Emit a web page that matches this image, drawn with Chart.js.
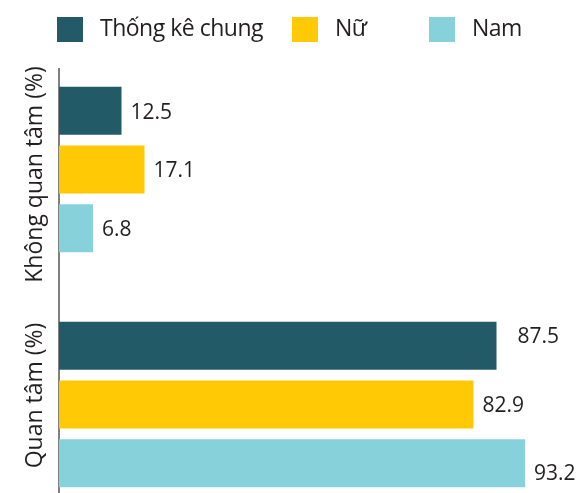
<!DOCTYPE html>
<html>
<head>
<meta charset="utf-8">
<script src="https://cdn.jsdelivr.net/npm/chart.js@4.4.1/dist/chart.umd.min.js"></script>
<style>
  html, body { margin: 0; padding: 0; background: #fff; }
  #wrap { position: relative; width: 577px; height: 493px; }
  #legend {
    position: absolute; top: 17px; left: 57px;
    display: flex; align-items: center;
    font-family: "Open Sans", sans-serif; font-size: 23px; line-height: 25px;
    letter-spacing: -0.5px; color: #231f20;
  }
  .item { display: flex; align-items: center; height: 25px; }
  .swatch { width: 26px; height: 25px; margin-right: 17px; }
  .item span.txt { position: relative; top: -2px; }
</style>
</head>
<body>
<div id="wrap">
  <div id="legend"></div>
  <canvas id="chart" width="577" height="493"></canvas>
</div>
<script>
const groups = ['Không quan tâm (%)', 'Quan tâm (%)'];
const seriesNames = ['Thống kê chung', 'Nữ', 'Nam'];
const tongQuat = [12.5, 87.5];
const nu = [17.1, 82.9];
const nam = [6.8, 93.2];

const colors = ['#235a68', '#ffca05', '#87d2da'];
const legendWidths = [235, 137, null];
const textColor = '#231f20';
const fontFamily = '"Open Sans", sans-serif';

// hand-placed labels that sit a little off the default spot
const labelNudge = { '0:1': [12, -11], '2:1': [0, 9] };
const titleNudge = [5, -9];

function toPoints(values) {
  return values.map((v, i) => ({ x: v, y: i }));
}

const datasets = [tongQuat, nu, nam].map((values, i) => ({
  label: seriesNames[i],
  data: toPoints(values),
  backgroundColor: colors[i],
  borderWidth: 0,
  categoryPercentage: 0.75,
  barPercentage: 0.82
}));

const valueLabels = {
  id: 'valueLabels',
  afterDatasetsDraw(chart) {
    const ctx = chart.ctx;
    ctx.save();
    ctx.font = '21px ' + fontFamily;
    ctx.fillStyle = textColor;
    ctx.textAlign = 'left';
    ctx.textBaseline = 'middle';
    chart.data.datasets.forEach((ds, di) => {
      chart.getDatasetMeta(di).data.forEach((bar, i) => {
        const nudge = labelNudge[di + ':' + i] || [0, 0];
        ctx.fillText(ds.data[i].x.toFixed(1), bar.x + 9 + nudge[0], bar.y + 2 + nudge[1]);
      });
    });
    ctx.restore();
  }
};

const groupTitles = {
  id: 'groupTitles',
  afterDraw(chart) {
    const ctx = chart.ctx;
    const yScale = chart.scales.y;
    ctx.save();
    ctx.font = '23px ' + fontFamily;
    ctx.fillStyle = textColor;
    ctx.textAlign = 'center';
    ctx.textBaseline = 'alphabetic';
    groups.forEach((name, i) => {
      ctx.save();
      ctx.translate(42, yScale.getPixelForValue(i) + titleNudge[i]);
      ctx.rotate(-Math.PI / 2);
      ctx.fillText(name, 0, 0);
      ctx.restore();
    });
    ctx.restore();
  }
};

const chart = new Chart(document.getElementById('chart'), {
  type: 'bar',
  data: { datasets },
  options: {
    indexAxis: 'y',
    responsive: false,
    animation: false,
    layout: { padding: { left: 59, right: 18, top: 69, bottom: 0 } },
    plugins: { legend: { display: false }, tooltip: { enabled: false } },
    scales: {
      x: { type: 'linear', min: 0, max: 100, display: false },
      y: {
        type: 'linear',
        reverse: true,
        offset: false,
        min: -0.4277,
        max: 1.3766,
        grid: { display: false, drawTicks: false },
        border: { display: true, color: '#808080', width: 2 },
        ticks: { display: false },
        afterBuildTicks(scale) {
          scale.ticks = groups.map((_, i) => ({ value: i }));
        },
        afterFit(scale) { scale.width = 0; }
      }
    }
  },
  plugins: [valueLabels, groupTitles]
});

// legend built from the chart's datasets
const legendEl = document.getElementById('legend');
chart.data.datasets.forEach((ds, i) => {
  const item = document.createElement('div');
  item.className = 'item';
  if (legendWidths[i]) item.style.width = legendWidths[i] + 'px';
  const sw = document.createElement('span');
  sw.className = 'swatch';
  sw.style.background = ds.backgroundColor;
  const txt = document.createElement('span');
  txt.className = 'txt';
  txt.textContent = ds.label;
  item.appendChild(sw);
  item.appendChild(txt);
  legendEl.appendChild(item);
});
</script>
</body>
</html>
